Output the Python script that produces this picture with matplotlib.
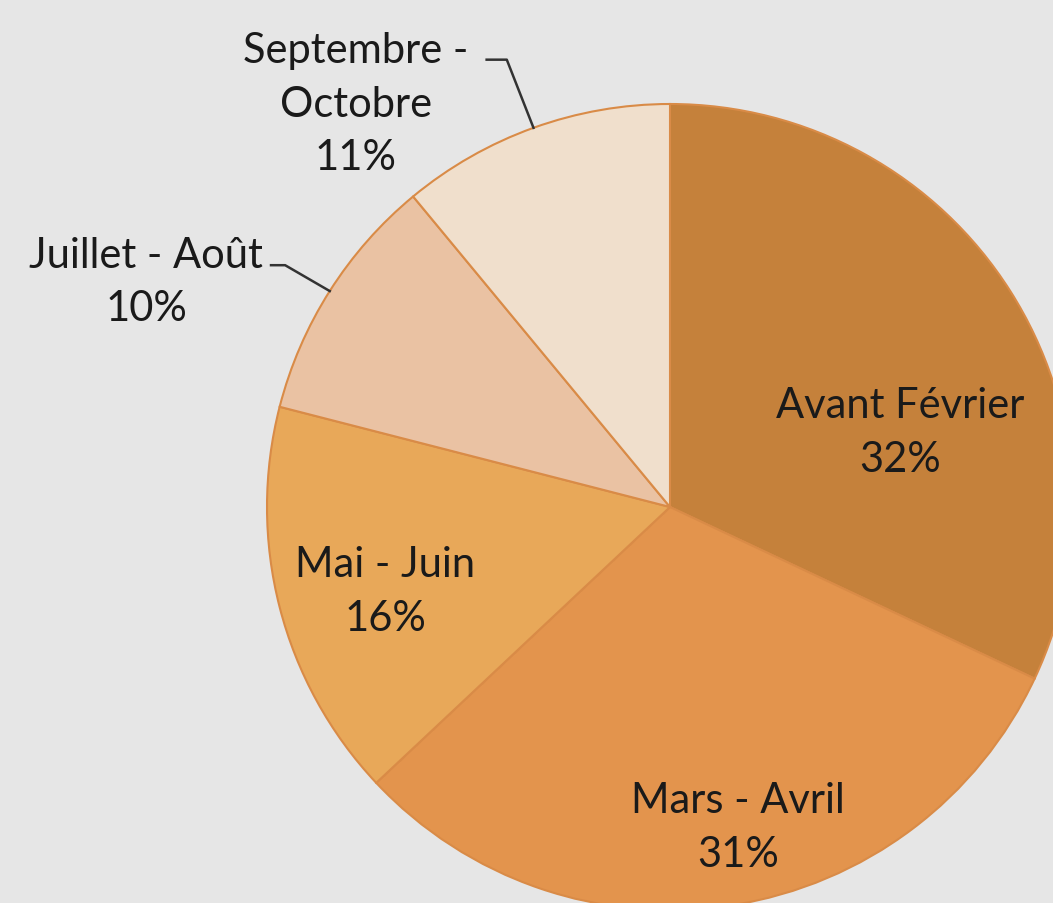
import numpy as np
import matplotlib.pyplot as plt

labels = ["Avant Février", "Mars - Avril", "Mai - Juin", "Juillet - Août", "Septembre -\nOctobre"]
values = [32, 31, 16, 10, 11]
colors = ["#C5813B", "#E3944D", "#E8A859", "#EAC2A3", "#F0DFCC"]

plt.rcParams['font.family'] = ['Lato', 'DejaVu Sans']
bg = "#E6E6E6"

fig = plt.figure(figsize=(10.53, 9.04), dpi=100, facecolor=bg)
ax = fig.add_axes([0, 0, 1, 1])
ax.set_facecolor(bg)

wedges, _ = ax.pie(values, colors=colors, startangle=90, counterclock=False,
                   radius=1, wedgeprops=dict(edgecolor="#D98B47", linewidth=1.5))

# pie radius ~403 px, centre at (670, 508) px
ax.set_xlim(-670 / 403, (1053 - 670) / 403)
ax.set_ylim(-(904 - 508) / 403, 508 / 403)
ax.set_aspect('auto')
ax.axis('off')

fs = 30
txt = dict(ha="center", va="center", fontsize=fs, color="#1A1A1A", linespacing=1.5)

# labels inside the slices
inside = {0: (0.571, 0.186), 1: (0.169, -0.794), 2: (-0.707, -0.208)}
for i, (x, y) in inside.items():
    ax.text(x, y, f"{labels[i]}\n{values[i]}%", **txt)

# outside labels with leader lines
outside = {3: ((-1.30, 0.56), (-0.99, 0.60), (-0.955, 0.60)),
           4: ((-0.78, 1.00), (-0.455, 1.11), (-0.405, 1.11))}
for i, ((tx, ty), (lx, ly), (kx, ky)) in outside.items():
    w = wedges[i]
    mid = np.deg2rad((w.theta1 + w.theta2) / 2)
    ex, ey = np.cos(mid), np.sin(mid)
    ax.plot([lx, kx, ex], [ly, ky, ey], color="#333333", lw=1.8)
    ax.text(tx, ty, f"{labels[i]}\n{values[i]}%", **txt)

fig.savefig("out.png", dpi=100, facecolor=bg)
